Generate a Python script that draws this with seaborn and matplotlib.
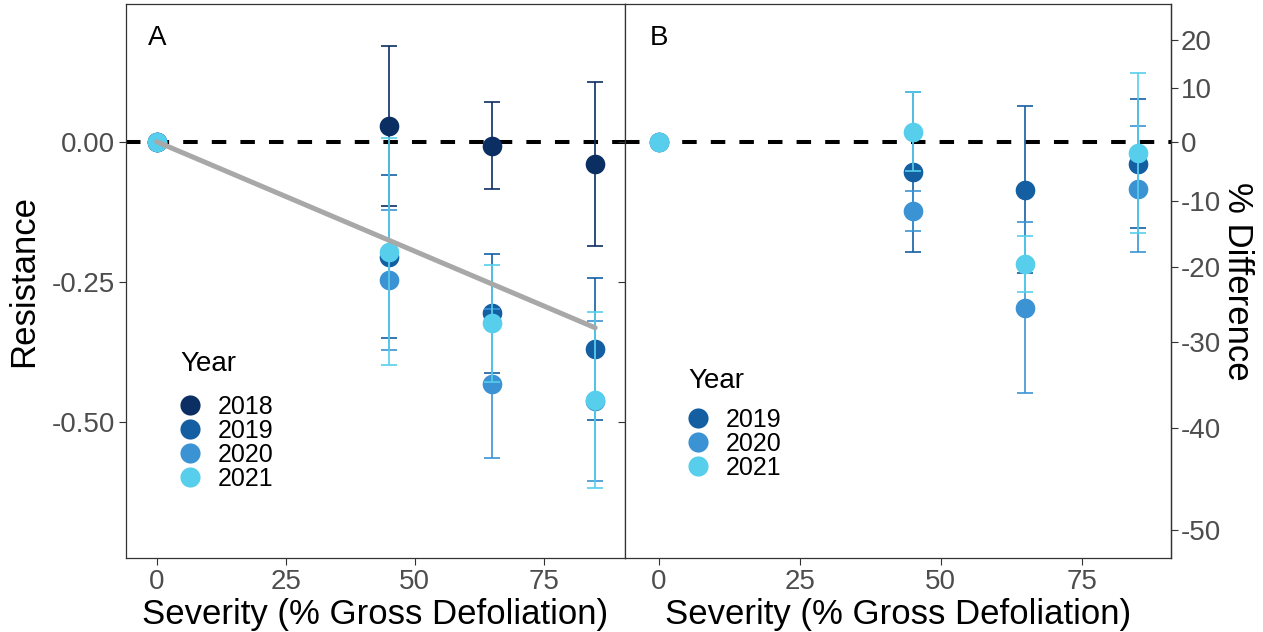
import numpy as np
import pandas as pd
import matplotlib
matplotlib.use("Agg")
import matplotlib.pyplot as plt
from matplotlib.lines import Line2D
import seaborn as sns

# ---------------- data ----------------
severity = [0, 45, 65, 85]
years_a = ["2018", "2019", "2020", "2021"]
years_b = ["2019", "2020", "2021"]

# Panel A: resistance (mean) and SE
res_a_2018 = [0.0, 0.028, -0.007, -0.040]
se_a_2018 = [0.0, 0.143, 0.078, 0.146]
res_a_2019 = [0.0, -0.205, -0.306, -0.370]
se_a_2019 = [0.0, 0.146, 0.106, 0.126]
res_a_2020 = [0.0, -0.246, -0.432, -0.463]
se_a_2020 = [0.0, 0.125, 0.133, 0.143]
res_a_2021 = [0.0, -0.196, -0.324, -0.461]
se_a_2021 = [0.0, 0.202, 0.104, 0.157]

# Panel B
res_b_2019 = [0.0, -0.054, -0.086, -0.039]
se_b_2019 = [0.0, 0.142, 0.149, 0.115]
res_b_2020 = [0.0, -0.124, -0.296, -0.084]
se_b_2020 = [0.0, 0.036, 0.153, 0.112]
res_b_2021 = [0.0, 0.018, -0.218, -0.020]
se_b_2021 = [0.0, 0.070, 0.050, 0.142]

# fitted trend (panel A)
trend_x = [0, 85]
trend_y = [0.0, -0.332]

x_ticks = [0, 25, 50, 75]
y_ticks = [0.0, -0.25, -0.50]
y_ticklabels = ["0.00", "-0.25", "-0.50"]
pct_ticks = [20, 10, 0, -10, -20, -30, -40, -50]

palette = {"2018": "#0B2F62", "2019": "#135FA2", "2020": "#3B93D4", "2021": "#57CEEC"}

def make_df(years, res, se):
    rows = []
    for y in years:
        for s, r, e in zip(severity, res[y], se[y]):
            rows.append({"Severity": s, "Resistance": r, "SE": e, "Year": y})
    return pd.DataFrame(rows)

df_a = make_df(years_a,
               {"2018": res_a_2018, "2019": res_a_2019, "2020": res_a_2020, "2021": res_a_2021},
               {"2018": se_a_2018, "2019": se_a_2019, "2020": se_a_2020, "2021": se_a_2021})
df_b = make_df(years_b,
               {"2019": res_b_2019, "2020": res_b_2020, "2021": res_b_2021},
               {"2019": se_b_2019, "2020": se_b_2020, "2021": se_b_2021})

# ---------------- style ----------------
sns.set_style("white")
plt.rcParams["font.family"] = ["Liberation Sans", "DejaVu Sans"]
plt.rcParams["text.color"] = "black"
plt.rcParams["axes.labelcolor"] = "black"

W, H = 1263, 632
fig = plt.figure(figsize=(W / 100, H / 100), dpi=100)
ax_a = fig.add_axes([126 / W, 1 - 558.3 / H, 499 / W, 554.3 / H])
ax_b = fig.add_axes([625 / W, 1 - 558.3 / H, 546 / W, 554.3 / H])

XLIM = (-5.95, 90.78)
YLIM = (-0.7433, 0.2457)
tick_col = "#4D4D4D"
edge_col = "#333333"

def draw_panel(ax, df, years, capsize):
    ax.axhline(0, color="black", lw=2.9, dashes=(3.6, 3.5), zorder=2)
    z = 3
    for y in years:
        d = df[df["Year"] == y]
        sns.scatterplot(data=d, x="Severity", y="Resistance", color=palette[y],
                        s=200, linewidth=0, ax=ax, zorder=z, legend=False)
        de = d[d["SE"] > 0]
        ax.errorbar(de["Severity"], de["Resistance"], yerr=de["SE"], fmt="none",
                    ecolor=palette[y], elinewidth=1.2, capsize=capsize,
                    capthick=1.2, zorder=z + 0.5)
        z += 1
    ax.set_xlim(*XLIM)
    ax.set_ylim(*YLIM)
    ax.set_xticks(x_ticks)
    ax.set_xticklabels([str(t) for t in x_ticks])
    ax.set_xlabel("Severity (% Gross Defoliation)", fontsize=25, labelpad=2)
    for sp in ax.spines.values():
        sp.set_color(edge_col)
        sp.set_linewidth(0.9)
    ax.tick_params(axis="both", which="both", direction="out", length=5,
                   width=0.8, color=edge_col, labelcolor=tick_col, labelsize=20,
                   bottom=True, left=True, pad=3)
    handles = [Line2D([], [], marker="o", linestyle="none", markersize=14.5,
                      markerfacecolor=palette[y], markeredgewidth=0, label=y)
               for y in years]
    return handles

h_a = draw_panel(ax_a, df_a, years_a, 5.6)
sns.lineplot(x=trend_x, y=trend_y, color="#A8A8A8", lw=3.6, ax=ax_a, zorder=20)
h_b = draw_panel(ax_b, df_b, years_b, 6.1)

ax_a.set_yticks(y_ticks)
ax_a.set_yticklabels(y_ticklabels)
ax_a.set_ylabel("Resistance", fontsize=25, labelpad=8)
ax_b.set_yticks(y_ticks)
ax_b.set_yticklabels([])
ax_b.set_ylabel("")

sec = ax_b.secondary_yaxis("right",
                           functions=(lambda r: (np.exp(r) - 1) * 100,
                                      lambda p: np.log(np.clip(1 + p / 100, 1e-6, None))))
sec.set_yticks(pct_ticks)
sec.set_yticklabels([str(t) for t in pct_ticks])
sec.tick_params(direction="out", length=5, width=0.8, color=edge_col,
                labelcolor=tick_col, labelsize=20, pad=2)
sec.spines["right"].set_color(edge_col)
sec.spines["right"].set_linewidth(0.9)
sec.set_ylabel("% Difference", fontsize=25, rotation=270, labelpad=24)

ax_a.text(0, 0.185, "A", fontsize=20, ha="center", va="center")
ax_b.text(0, 0.185, "B", fontsize=20, ha="center", va="center")

# legends: title as text, entries as legend
legend_specs = [
    (ax_a, h_a, 180, 364, 407),
    (ax_b, h_b, 688, 381, 420),
]
for ax, handles, left_px, title_px, row1_px in legend_specs:
    ax_left = 126 if ax is ax_a else 625
    ax_w = 499 if ax is ax_a else 546
    fx = (left_px - ax_left) / ax_w
    ax.text(fx, (558.3 - title_px) / 554.3, "Year", fontsize=20,
            ha="left", va="center", transform=ax.transAxes)
    ax.legend(handles=handles, loc="upper left",
              bbox_to_anchor=(fx, (558.3 - (row1_px - 12)) / 554.3),
              frameon=False, fontsize=18, borderpad=0, borderaxespad=0,
              labelspacing=0.0, handlelength=0.8, handletextpad=0.72)

fig.savefig("out.png", dpi=100)
